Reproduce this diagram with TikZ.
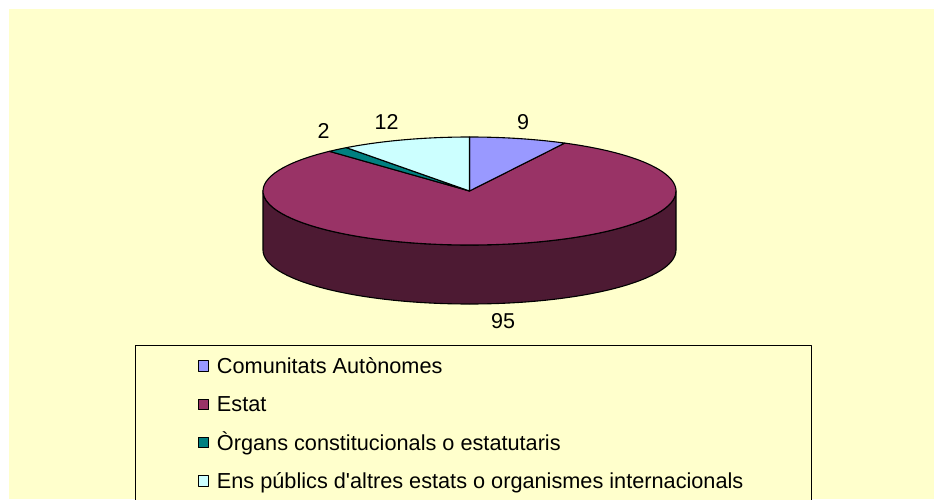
\documentclass[tikz,border=0pt]{standalone}
\usepackage{fontspec}
\setmainfont{Liberation Sans}
\usetikzlibrary{positioning}

\definecolor{bg}{HTML}{FFFFCC}
\definecolor{autonomes}{HTML}{9999FF}
\definecolor{estat}{HTML}{993366}
\definecolor{estatside}{HTML}{4D1A33}
\definecolor{organs}{HTML}{008080}
\definecolor{ens}{HTML}{CCFFFF}

\begin{document}
\begin{tikzpicture}[x=1pt, y=1pt, line join=round,
    slice/.style={draw=black, line width=1.1pt},
    val/.style={font=\fontsize{21.5}{25}\selectfont, inner sep=0pt, text height=15pt, text depth=0pt},
    key/.style={draw=black, line width=1pt, minimum size=10.5pt, inner sep=0pt},
    entry/.style={font=\fontsize{21.7}{25}\selectfont, inner sep=0pt, text height=15pt, text depth=0pt}]
    \useasboundingbox (0,0) rectangle (934,499);
    \fill [bg] (9,0) rectangle (934,490);

    % side of the pie (only Estat is seen from the front)
    \filldraw [slice, fill=estatside] (263,308) -- (263,249)
        arc [start angle=180, end angle=360, x radius=206.5, y radius=54]
        -- (676,308)
        arc [start angle=0, end angle=-180, x radius=206.5, y radius=54] -- cycle;

    % top of the pie: 9, 95, 2, 12 clockwise from the top
    \begin{scope}[shift={(469.5,308)}]
        \coordinate (C) at (0,0);
        \filldraw [slice, fill=estat] (C) -- (62.54:206.5 and 54)
            arc [start angle=62.54, end angle=-227.29, x radius=206.5, y radius=54] -- cycle;
        \filldraw [slice, fill=autonomes] (C) -- (90:206.5 and 54)
            arc [start angle=90, end angle=62.54, x radius=206.5, y radius=54] -- cycle;
        \filldraw [slice, fill=organs] (C) -- (132.71:206.5 and 54)
            arc [start angle=132.71, end angle=126.61, x radius=206.5, y radius=54] -- cycle;
        \filldraw [slice, fill=ens] (C) -- (126.61:206.5 and 54)
            arc [start angle=126.61, end angle=90, x radius=206.5, y radius=54] -- cycle;
    \end{scope}

    \node [val] (v9) at (523,377.5) {9};
    \node [val] (v12) at (386.5,377.5) {12};
    \node [val] (v2) at (323.5,367.5) {2};
    \node [val] (v95) at (503,178.5) {95};

    % legend
    \draw [line width=0.9pt, fill=bg] (135.5,-5) rectangle (811.5,153.5);
    \node [key, fill=autonomes] (k1) at (203.5,133) {};
    \node [key, fill=estat, below=26.8pt of k1] (k2) {};
    \node [key, fill=organs, below=26.8pt of k2] (k3) {};
    \node [key, fill=ens, below=26.8pt of k3] (k4) {};
    \node [entry, right=7.5pt of k1] (t1) {Comunitats Autònomes};
    \node [entry, right=7.5pt of k2] (t2) {Estat};
    \node [entry, right=7.5pt of k3] (t3) {Òrgans constitucionals o estatutaris};
    \node [entry, right=7.5pt of k4] (t4) {Ens públics d\textquotesingle altres estats o organismes internacionals};
\end{tikzpicture}
\end{document}
